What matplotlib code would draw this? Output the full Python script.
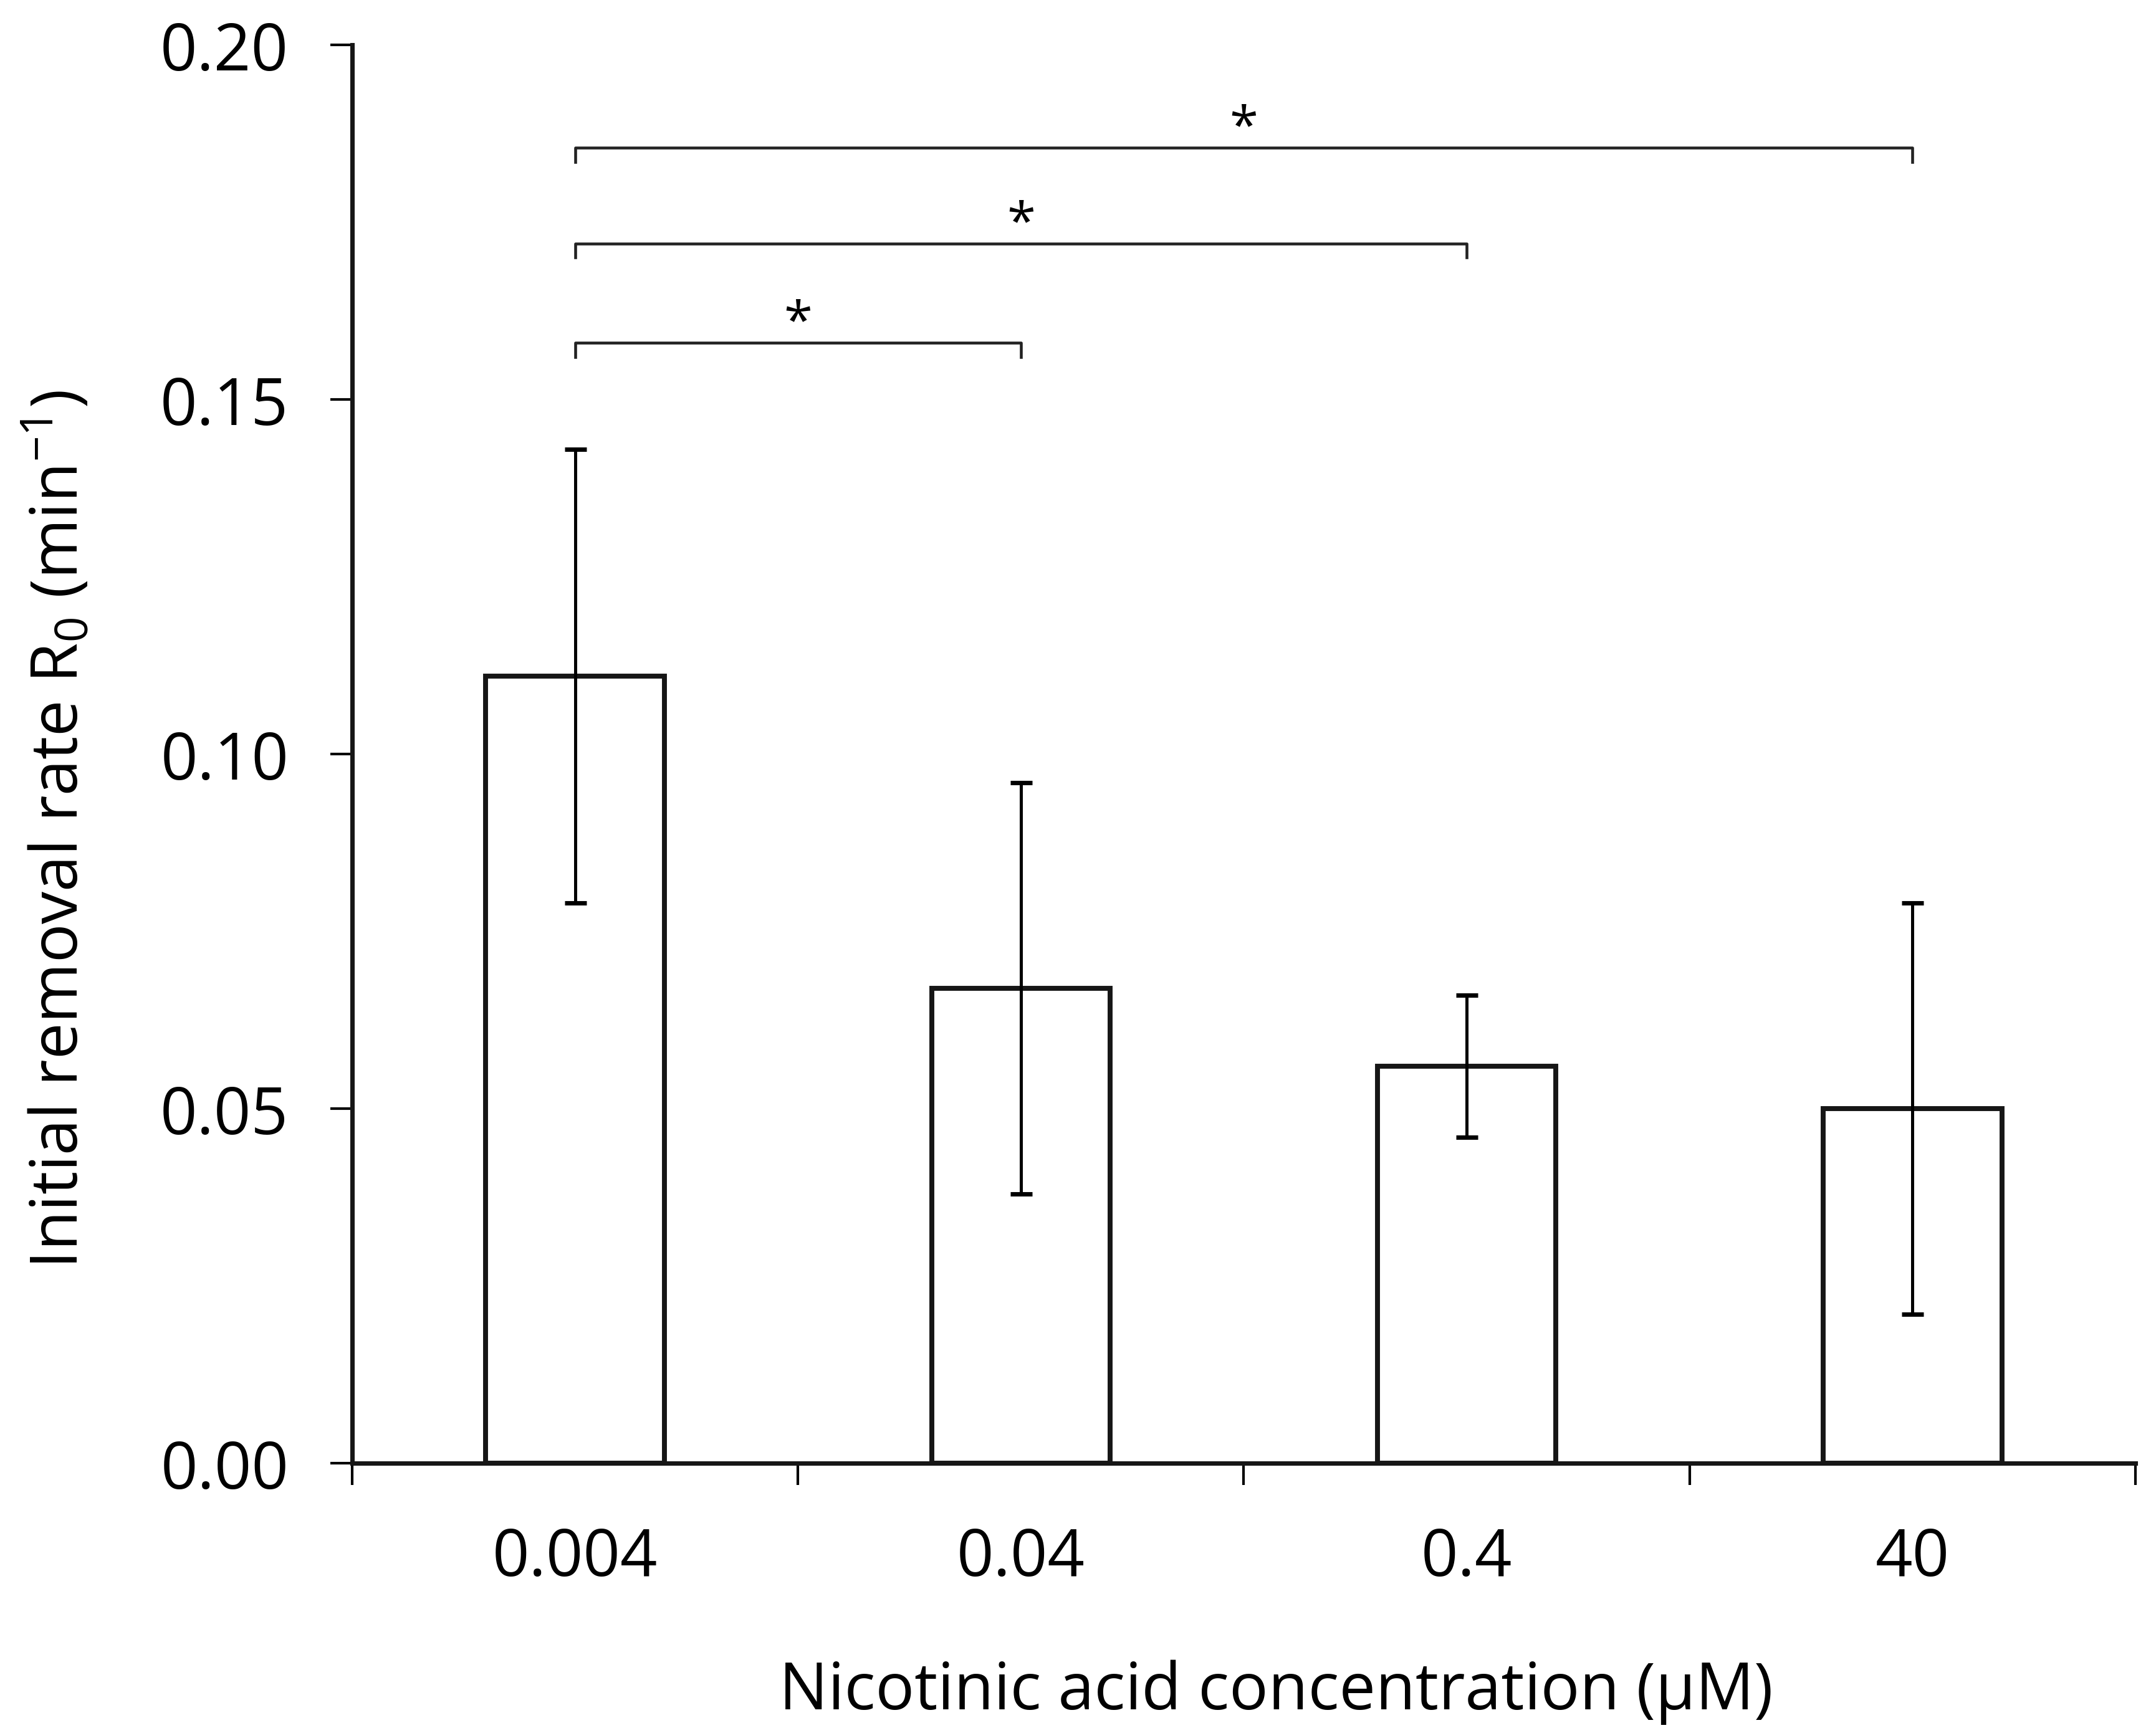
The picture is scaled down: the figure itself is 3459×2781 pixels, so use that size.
import numpy as np
import matplotlib
matplotlib.use("Agg")
import matplotlib.pyplot as plt

# data
concentrations = ["0.004", "0.04", "0.4", "40"]
rate_mean = [0.111, 0.067, 0.056, 0.050]
rate_err = [0.032, 0.029, 0.010, 0.029]

# significance brackets: (from index, to index, height)
brackets = [(0, 1, 0.158), (0, 2, 0.172), (0, 3, 0.1855)]

plt.rcParams['font.family'] = ['Open Sans', 'DejaVu Sans']
plt.rcParams['mathtext.fontset'] = 'custom'
plt.rcParams['mathtext.rm'] = 'Open Sans'
plt.rcParams['mathtext.it'] = 'Open Sans:italic'

fig = plt.figure(figsize=(11.53, 9.273), dpi=300)
ax = fig.add_axes([0.1633, 0.1556, 0.8272, 0.8182])

x = np.arange(len(concentrations))
ax.bar(x, rate_mean, width=0.40, color='white', edgecolor='#161616', linewidth=1.9, zorder=2)
ax.errorbar(x, rate_mean, yerr=rate_err, fmt='none', ecolor='black',
            elinewidth=1.2, capsize=4.2, capthick=1.7, zorder=3)

# brackets with stars
drop = 0.002
for i, j, h in brackets:
    ax.plot([x[i], x[i], x[j], x[j]], [h - drop, h, h, h - drop],
            color='#222222', linewidth=1.1, clip_on=False)
    ax.text((x[i] + x[j]) / 2, h - 0.001, '*', ha='center', va='bottom', fontsize=20)

ax.set_xlim(-0.5, len(concentrations) - 0.5)
ax.set_ylim(0, 0.20)
ax.set_yticks([0.0, 0.05, 0.10, 0.15, 0.20])
ax.set_yticklabels(['0.00', '0.05', '0.10', '0.15', '0.20'])
ax.set_xticks(x)
ax.set_xticklabels(concentrations)
ax.set_xticks(np.arange(-0.5, len(concentrations)), minor=True)

ax.tick_params(axis='x', which='major', length=0, pad=24, labelsize=25)
ax.tick_params(axis='x', which='minor', length=8.4, width=1.0, direction='out')
ax.tick_params(axis='y', length=8.4, width=1.0, direction='out', pad=16, labelsize=25)

for s in ['top', 'right']:
    ax.spines[s].set_visible(False)
for s in ['left', 'bottom']:
    ax.spines[s].set_linewidth(1.7)
    ax.spines[s].set_color('#161616')

ax.set_xlabel('Nicotinic acid concentration (µM)', fontsize=25)
ax.set_ylabel('Initial removal rate R$_\\mathrm{0}$ (min$^{\\mathrm{-1}}$)', fontsize=25)
ax.xaxis.set_label_coords(0.518, -0.138)
ax.yaxis.set_label_coords(-0.145, 0.447)

fig.savefig('out.png', dpi=300)
